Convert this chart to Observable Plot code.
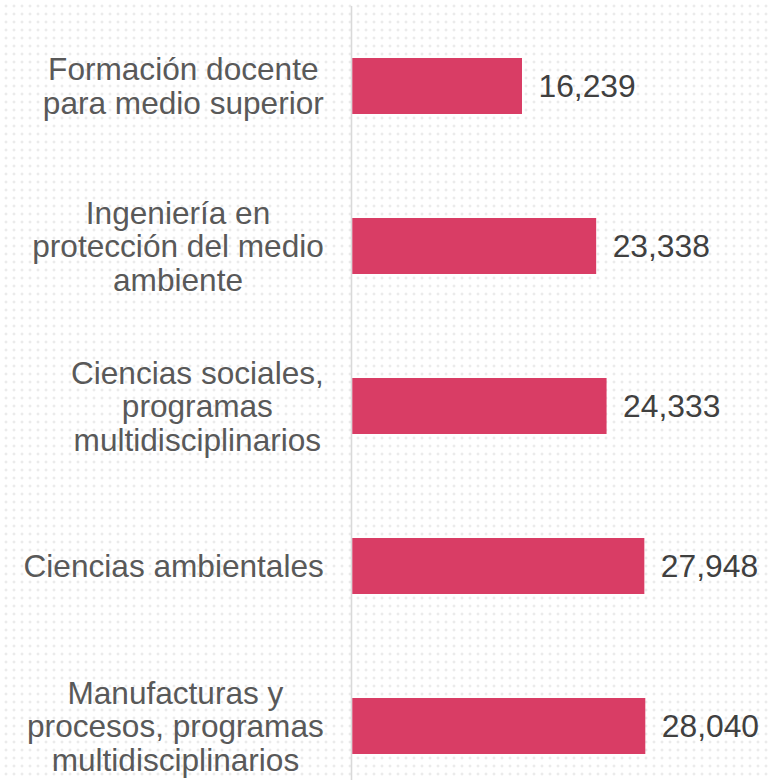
<!DOCTYPE html>
<html>
<head>
<meta charset="utf-8">
<script src="https://cdn.jsdelivr.net/npm/d3@7"></script>
<script src="https://cdn.jsdelivr.net/npm/@observablehq/plot@0.6"></script>
<style>
  html, body { margin: 0; padding: 0; }
  body {
    width: 769px; height: 780px; overflow: hidden;
    background-color: #ffffff;
    background-image: radial-gradient(circle, #ebebeb 1.3px, transparent 1.7px);
    background-size: 8px 8px;
    background-position: 2px 2px;
  }
  #chart svg { display: block; }
</style>
</head>
<body>
<div id="chart"></div>
<script>
const categories = [
  "Formación docente\npara medio superior",
  "Ingeniería en\nprotección del medio\nambiente",
  "Ciencias sociales,\nprogramas\nmultidisciplinarios",
  "Ciencias ambientales",
  "Manufacturas y\nprocesos, programas\nmultidisciplinarios"
];
const values = [16239, 23338, 24333, 27948, 28040];
const valueLabels = ["16,239", "23,338", "24,333", "27,948", "28,040"];

const data = categories.map((c, i) => ({category: c, value: values[i], label: valueLabels[i]}));

const font = "'Liberation Sans', Arial, sans-serif";
const catFontSize = 31.6;

// measure text widths so that multi-line labels are centred within a right-aligned block
const ctx = document.createElement("canvas").getContext("2d");
ctx.font = `${catFontSize}px ${font}`;
const blockWidth = c => Math.max(...c.split("\n").map(l => ctx.measureText(l).width));

const labelMarks = data.map(d => Plot.text([d], {
  x: 0, y: "category", text: "category",
  textAnchor: "middle", dx: -29 - blockWidth(d.category) / 2, lineHeight: 1.07,
  fontSize: catFontSize, fill: "#595959", fontFamily: font
}));

const chart = Plot.plot({
  width: 769,
  height: 780,
  marginTop: 6,
  marginBottom: 0,
  marginLeft: 0,
  marginRight: 0,
  style: {background: "transparent", fontFamily: font, overflow: "visible"},
  x: {domain: [0, 30000], range: [352.3, 352.3 + 293 / 28040 * 30000], axis: null},
  y: {domain: categories, range: [6, 806], paddingInner: 0.647, paddingOuter: 0.3235, axis: null},
  marks: [
    Plot.ruleX([0], {stroke: "#d9d9d9", strokeWidth: 1.6, dx: -1.3}),
    Plot.barX(data, {x: "value", y: "category", fill: "#d93d65"}),
    ...labelMarks,
    Plot.text(data, {
      x: "value", y: "category", text: "label",
      textAnchor: "start", dx: 16,
      fontSize: 31.8, fill: "#404040", fontFamily: font
    })
  ]
});
document.getElementById("chart").appendChild(chart);
</script>
</body>
</html>
